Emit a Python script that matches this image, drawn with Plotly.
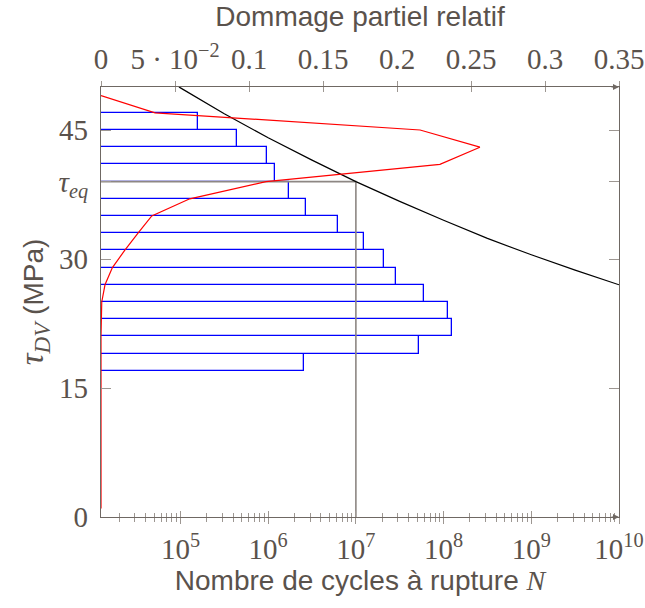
import plotly.graph_objects as go

# ---- data ----
# histogram of cycles per stress level (bars, 2 MPa wide)
tau_levels = [18, 20, 22, 24, 26, 28, 30, 32, 34, 36, 38, 40, 42, 44, 46]
cycles = [2.56e6, 5.26e7, 1.24e8, 1.12e8, 5.94e7, 2.90e7, 2.10e7, 1.24e7,
          6.27e6, 2.73e6, 1.73e6, 1.20e6, 9.57e5, 4.42e5, 1.60e5]

# relative partial damage (top axis)
damage_tau = [49, 47, 45, 43, 41, 39, 37, 35, 33, 31, 29, 27, 25, 23, 21,
              19, 17, 15, 13, 11, 9, 7, 5, 3, 1]
damage_rel = [0.0, 0.0365, 0.2156, 0.256, 0.229, 0.1115, 0.060, 0.0343,
              0.025, 0.016, 0.0077, 0.0027, 0.0005, 0.0001, 0.0,
              0.0, 0.0, 0.0, 0.0, 0.0, 0.0, 0.0, 0.0, 0.0, 0.0]

# S-N (Woehler) curve
sn_N = [9.6e4, 1e5, 3.16e5, 1e6, 3.16e6, 1e7, 3.16e7, 1e8, 3.16e8, 1e9, 3.16e9, 1e10]
sn_tau = [50.0, 49.9, 46.9, 44.1, 41.5, 39.0, 36.7, 34.5, 32.4, 30.5, 28.7, 27.0]

tau_eq = 39
N_eq = 1e7

# tick labels
y_tickvals = [0, 15, 30, tau_eq, 45]
y_ticktext = ["0", "15", "30", "<i>τ<sub>eq</sub></i>", "45"]
top_tickvals = [0, 0.05, 0.1, 0.15, 0.2, 0.25, 0.3, 0.35]
top_ticktext = ["0", "5 · 10<sup>−2</sup>", "0.1", "0.15", "0.2", "0.25", "0.3", "0.35"]
bot_tickvals = [1e5, 1e6, 1e7, 1e8, 1e9, 1e10]
bot_ticktext = ["10<sup>5</sup>", "10<sup>6</sup>", "10<sup>7</sup>",
                "10<sup>8</sup>", "10<sup>9</sup>", "10<sup>10</sup>"]

# ---- styling ----
TXT = "#5a524c"
LINE = "#6f6863"
TICK = "#9d9792"
SERIF = "Liberation Serif"
SANS = "Liberation Sans"
XLOG_RANGE = [4.094, 10]
minor_vals = [m * 10 ** e for e in range(4, 10) for m in range(2, 10)]

fig = go.Figure()

fig.add_trace(go.Bar(
    y=tau_levels, x=cycles, base=1, orientation="h", width=2,
    marker=dict(color="white", line=dict(color="#0000ff", width=1.3)),
    xaxis="x", yaxis="y", showlegend=False, hoverinfo="skip"))

fig.add_trace(go.Scatter(
    x=[1, N_eq, N_eq], y=[tau_eq, tau_eq, 0], mode="lines",
    line=dict(color="#8d8783", width=1.6), xaxis="x", yaxis="y",
    showlegend=False, hoverinfo="skip"))

fig.add_trace(go.Scatter(
    x=sn_N, y=sn_tau, mode="lines", line=dict(color="black", width=1.2),
    xaxis="x", yaxis="y", showlegend=False))

# dummy traces so the helper tick axes exist
fig.add_trace(go.Scatter(x=[], y=[], xaxis="x3", yaxis="y", showlegend=False))
fig.add_trace(go.Scatter(x=[], y=[], xaxis="x4", yaxis="y", showlegend=False))

fig.add_trace(go.Scatter(
    x=damage_rel, y=damage_tau, mode="lines", line=dict(color="#ff0000", width=1.2),
    xaxis="x2", yaxis="y", showlegend=False))

tickfont = dict(family=SERIF, size=29, color=TXT)
titlefont = dict(family=SANS, size=28, color=TXT)

fig.update_layout(
    width=645, height=608,
    margin=dict(l=101, r=26, t=87, b=91, autoexpand=False),
    paper_bgcolor="white", plot_bgcolor="white",
    bargap=0,
    xaxis=dict(
        type="log", range=XLOG_RANGE, showgrid=False, zeroline=False, automargin=False,
        showline=True, linecolor=LINE, linewidth=1.3,
        tickmode="array", tickvals=bot_tickvals, ticktext=bot_ticktext,
        ticks="outside", ticklen=6, tickcolor=TICK, tickwidth=1.3,
        ticklabeloverflow="allow",
        minor=dict(tickmode="array", tickvals=minor_vals, ticks="outside",
                   ticklen=4, tickcolor=TICK, tickwidth=1),
        tickfont=tickfont,
        title=dict(text='Nombre de cycles à rupture <span style="font-family:Liberation Serif"><i>N</i></span>',
                   font=titlefont, standoff=6),
    ),
    xaxis3=dict(
        type="log", range=XLOG_RANGE, overlaying="x", anchor="y", side="bottom",
        automargin=False,
        showgrid=False, zeroline=False, showline=False, showticklabels=False,
        tickmode="array", tickvals=bot_tickvals,
        ticks="inside", ticklen=6, tickcolor=TICK, tickwidth=1.3,
        minor=dict(tickmode="array", tickvals=minor_vals, ticks="inside",
                   ticklen=4, tickcolor=TICK, tickwidth=1),
    ),
    xaxis2=dict(
        range=[0, 0.35], overlaying="x", anchor="y", side="top", automargin=False,
        showgrid=False, zeroline=False, showline=True, linecolor=LINE, linewidth=1.3,
        tickmode="array", tickvals=top_tickvals, ticktext=top_ticktext,
        ticks="outside", ticklen=5, tickcolor=TICK, tickwidth=1.3,
        ticklabeloverflow="allow",
        tickfont=tickfont,
        title=dict(text="Dommage partiel relatif", font=titlefont, standoff=4),
    ),
    xaxis4=dict(
        range=[0, 0.35], overlaying="x", anchor="y", side="top", automargin=False,
        showgrid=False, zeroline=False, showline=False, showticklabels=False,
        tickmode="array", tickvals=top_tickvals,
        ticks="inside", ticklen=5, tickcolor=TICK, tickwidth=1.3,
    ),
    yaxis=dict(
        range=[0, 50], showgrid=False, zeroline=False, automargin=False,
        showline=True, linecolor=LINE, linewidth=1.3, mirror="ticks",
        tickmode="array", tickvals=y_tickvals, ticktext=y_ticktext,
        ticks="inside", ticklen=10, tickcolor=TICK, tickwidth=1.3,
        ticklabelstandoff=6,
        tickfont=tickfont,
        title=dict(text='<span style="font-family:Liberation Serif;font-size:33px"><i>τ</i><sub><i>DV</i></sub></span> (MPa)',
                   font=titlefont, standoff=6),
    ),
    annotations=[
        dict(x=1, y=0, xref="paper", yref="paper", ax=-9, ay=0, text="",
             showarrow=True, arrowhead=2, arrowsize=1, arrowwidth=1.2,
             arrowcolor=LINE, standoff=0),
        dict(x=1, y=1, xref="paper", yref="paper", ax=-9, ay=0, text="",
             showarrow=True, arrowhead=2, arrowsize=1, arrowwidth=1.2,
             arrowcolor=LINE, standoff=0),
    ],
)

fig.write_html("out.html", config={"displayModeBar": False},
               post_script="document.body.style.margin='0px';document.body.style.overflow='hidden';")
